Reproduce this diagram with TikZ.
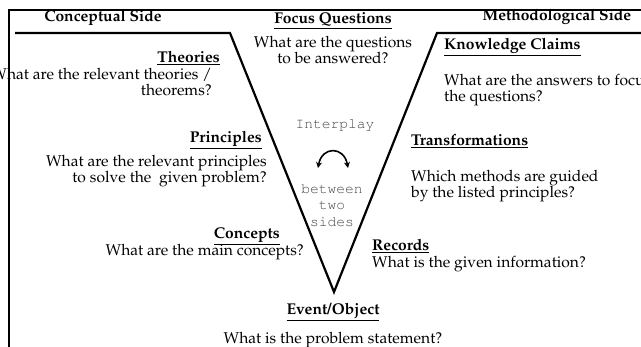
\documentclass[tikz,border=0pt]{standalone}
\usepackage[T1]{fontenc}
\renewcommand{\rmdefault}{ppl}
\renewcommand{\ttdefault}{pcr}
\usetikzlibrary{arrows.meta}
\tikzset{
  vee/.style={line width=2.2pt, line join=miter},
  head/.style={font=\fontsize{15.6}{16}\selectfont\bfseries, inner sep=0pt},
  ask/.style={font=\fontsize{15.6}{16.5}\selectfont, inner sep=0pt},
  mono/.style={font=\fontsize{14.6}{16.5}\selectfont\ttfamily, text=black!72, inner sep=0pt, align=center},
}
\begin{document}
\begin{tikzpicture}[x=1pt,y=-1pt]
  \useasboundingbox (0,0) rectangle (641,347);
  \draw[line width=2pt] (9,347) -- (9,10) -- (641,10); %frame

  \coordinate (L0) at (15,33);   %left start
  \coordinate (L1) at (230,33);  %left corner
  \coordinate (T)  at (334,292); %tip
  \coordinate (R1) at (437,33);  %right corner
  \coordinate (R0) at (643,33);  %right end
  \draw[vee] (L0) -- (L1) -- (T) -- (R1) -- (R0); %V

  % sides
  \node[head] (cside) at (103,18) {Conceptual Side};
  \node[head] (mside) at (557,17) {Methodological Side};

  % top and bottom
  \node[head] (focus) at (333,21) {\underline{Focus Questions}};
  \node[ask, align=center] (focusq) at (333,50) {What are the questions\\to be answered?};
  \node[head] (event) at (333,312) {\underline{Event/Object}};
  \node[ask] (eventq) at (333,340) {What is the problem statement?};

  % conceptual side
  \node[head, anchor=east] (theo) at (220,58) {\underline{Theories}};
  \node[ask, anchor=east, align=right] (theoq) at (212,82) {What are the relevant theories /\\theorems?};
  \node[head, anchor=east] (prin) at (262,140) {\underline{Principles}};
  \node[ask, anchor=east, align=right] (prinq) at (267,171) {What are the relevant principles\\to solve the\ \ given problem?};
  \node[head, anchor=east] (conc) at (280,236) {\underline{Concepts}};
  \node[ask, anchor=east] (concq) at (304,252) {What are the main concepts?};

  % methodological side
  \node[head, anchor=west] (know) at (444,47) {\underline{Knowledge Claims}};
  \node[ask, anchor=west, align=left] (knowq) at (444,90) {What are the answers to focus\\the questions?};
  \node[head, anchor=west] (trans) at (411,141) {\underline{Transformations}};
  \node[ask, anchor=west, align=left] (transq) at (411,186) {Which methods are guided\\by the listed principles?};
  \node[head, anchor=west] (reco) at (372,246) {\underline{Records}};
  \node[ask, anchor=west] (recoq) at (372,264) {What is the given information?};

  % interplay
  \node[mono] (inter) at (335,125) {Interplay};
  \node[mono] (betw) at (332,205) {between\\two\\sides};
  \coordinate (arL) at (318,168);
  \coordinate (arR) at (348,168);
  \draw[{Stealth[length=6pt,width=6pt]}-{Stealth[length=6pt,width=6pt]}, line width=1.6pt] (arL) .. controls (322,146) and (344,146) .. (arR);
\end{tikzpicture}
\end{document}
